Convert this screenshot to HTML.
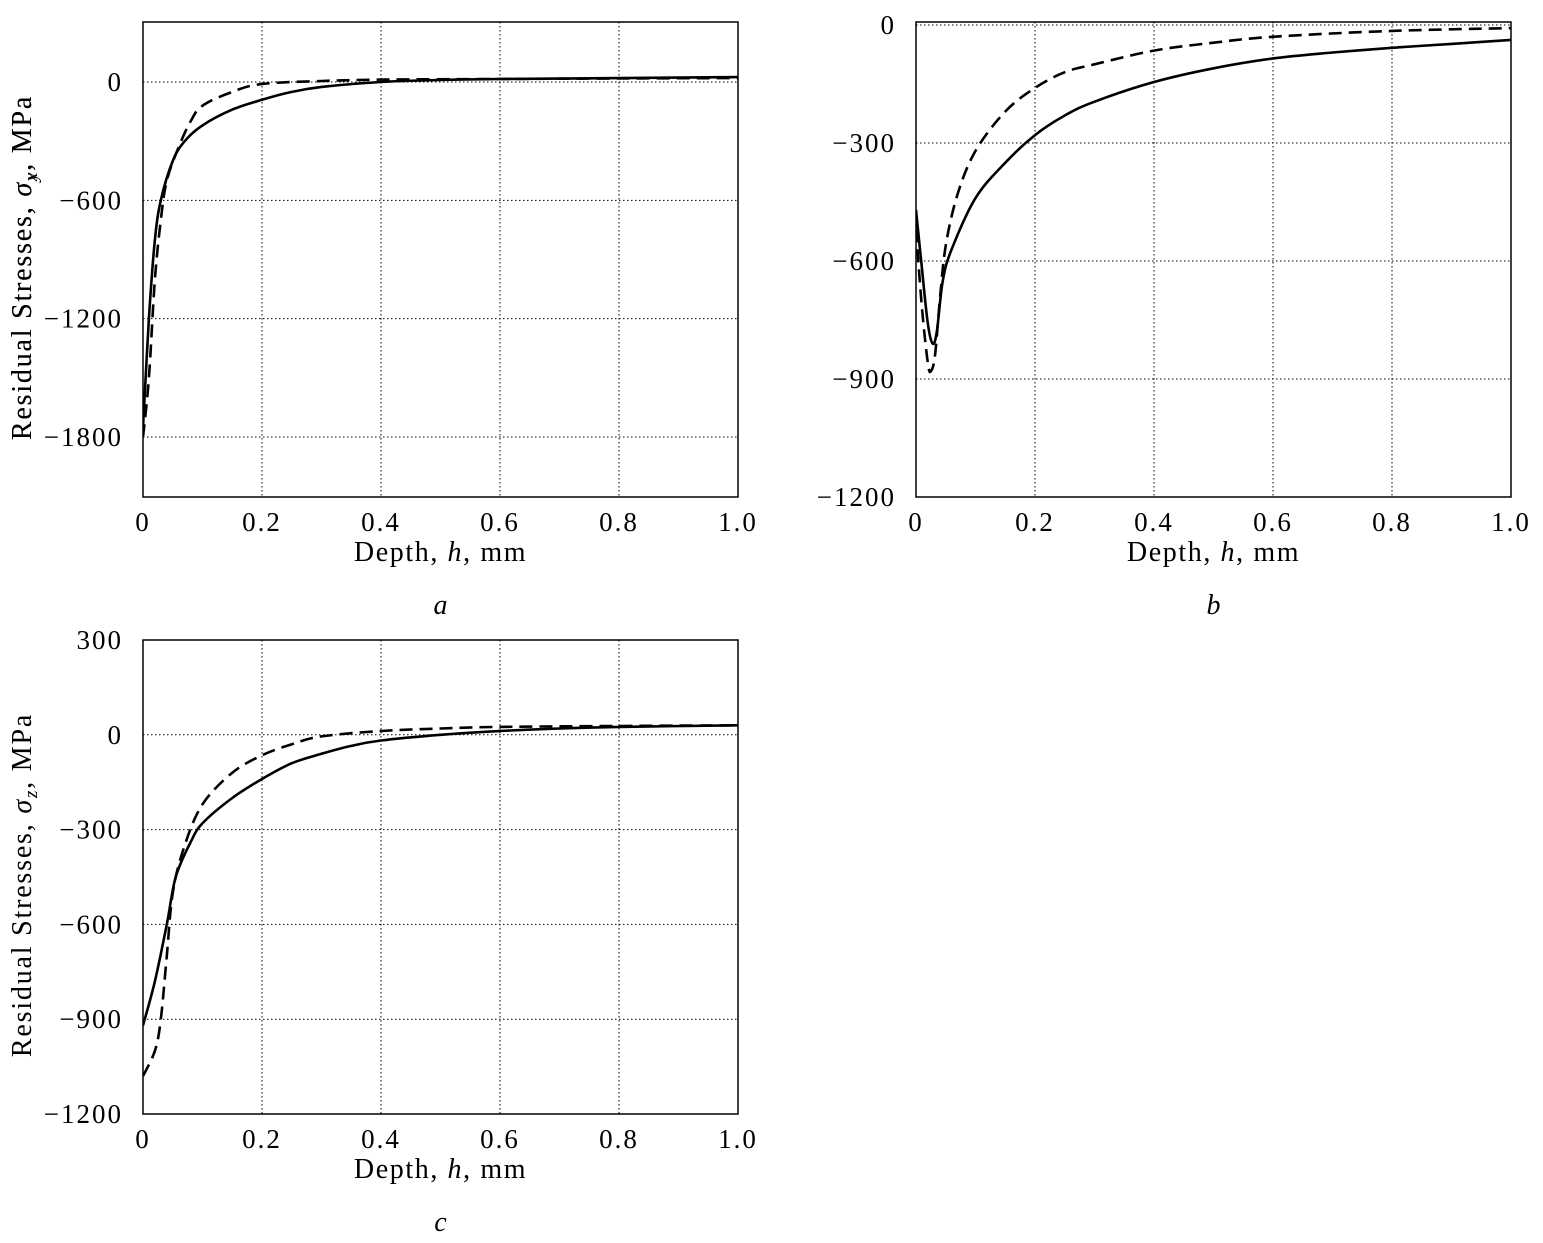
<!DOCTYPE html>
<html><head><meta charset="utf-8"><style>
body{margin:0;background:#fff;}
svg{display:block;font-family:"Liberation Serif",serif;}
</style></head><body>
<svg id="fig" width="1543" height="1243" viewBox="0 0 1543 1243" xmlns="http://www.w3.org/2000/svg"></svg>
<script>
const xTicks=[0,0.2,0.4,0.6,0.8,1.0];
const xTickLabels=["0","0.2","0.4","0.6","0.8","1.0"];
const aYTicks=[0,-600,-1200,-1800];
const aSolidX=[0,0.01,0.02,0.03,0.05,0.07,0.1,0.15,0.2,0.25,0.3,0.4,0.5,0.6,0.8,1.0];
const aSolidY=[-1750,-1200,-800,-600,-400,-300,-220,-140,-90,-50,-25,0,10,15,20,25];
const aDashX=[0,0.01,0.02,0.03,0.04,0.06,0.08,0.1,0.15,0.2,0.3,0.4,0.6,0.8,1.0];
const aDashY=[-1800,-1500,-1000,-700,-500,-330,-200,-120,-50,-10,5,12,15,18,20];
const bYTicks=[0,-300,-600,-900,-1200];
const bSolidX=[0,0.01,0.02,0.028,0.035,0.045,0.06,0.1,0.15,0.2,0.25,0.3,0.4,0.5,0.6,0.7,0.8,0.9,1.0];
const bSolidY=[-470,-620,-760,-810,-780,-650,-570,-440,-350,-280,-230,-195,-145,-110,-85,-70,-58,-48,-38];
const bDashX=[0,0.01,0.02,0.025,0.032,0.04,0.05,0.07,0.1,0.15,0.2,0.25,0.3,0.4,0.5,0.6,0.8,1.0];
const bDashY=[-520,-720,-860,-880,-840,-700,-560,-430,-320,-220,-160,-120,-100,-65,-45,-30,-15,-8];
const cYTicks=[300,0,-300,-600,-900,-1200];
const cSolidX=[0,0.02,0.04,0.055,0.08,0.1,0.15,0.2,0.25,0.3,0.35,0.4,0.5,0.6,0.7,0.8,1.0];
const cSolidY=[-920,-780,-600,-450,-340,-280,-200,-140,-90,-60,-35,-18,0,12,20,25,30];
const cDashX=[0,0.02,0.03,0.04,0.05,0.07,0.1,0.15,0.2,0.25,0.3,0.4,0.5,0.6,0.8,1.0];
const cDashY=[-1080,-1000,-900,-700,-500,-350,-220,-120,-65,-30,-5,12,20,25,28,30];

const NS="http://www.w3.org/2000/svg";
const svg=document.getElementById('fig');
function mk(tag,attrs,parent){const e=document.createElementNS(NS,tag);for(const k in attrs)e.setAttribute(k,attrs[k]);(parent||svg).appendChild(e);return e;}
function smooth(pts){
  let d='M'+pts[0][0].toFixed(1)+','+pts[0][1].toFixed(1);
  for(let i=0;i<pts.length-1;i++){
    const p0=pts[Math.max(0,i-1)],p1=pts[i],p2=pts[i+1],p3=pts[Math.min(pts.length-1,i+2)];
    const c1=[p1[0]+(p2[0]-p0[0])/6,p1[1]+(p2[1]-p0[1])/6];
    const c2=[p2[0]-(p3[0]-p1[0])/6,p2[1]-(p3[1]-p1[1])/6];
    d+='C'+c1.map(v=>v.toFixed(1)).join(',')+' '+c2.map(v=>v.toFixed(1)).join(',')+' '+p2.map(v=>v.toFixed(1)).join(',');
  }
  return d;
}

function panel(id,L,R,T,B,v0,p0,v1,p1,yTicks,sx,sy,dx,dy,sub,cap){
  const g=mk('g',{});
  
  
  const X=v=>L+(R-L)*v;
  const Y=v=>p0+(v-v0)*(p1-p0)/(v1-v0);
  xTicks.forEach((t,i)=>{
    if(t>0&&t<1){const l=mk('line',{x1:X(t),x2:X(t),y1:T,y2:B,stroke:'#000','stroke-width':1,'stroke-dasharray':'1.5 2.5'},g);
    }
    const tx=mk('text',{x:X(t),y:B+34,'font-size':27,'letter-spacing':2,'text-anchor':'middle'},g);tx.textContent=xTickLabels[i];
    
  });
  yTicks.forEach(t=>{
    const y=Y(t);
    if(y>T+2&&y<B-2){const l=mk('line',{x1:L,x2:R,y1:y,y2:y,stroke:'#000','stroke-width':1,'stroke-dasharray':'1.5 2.5'},g);
    }
    const tx=mk('text',{x:L-20,y:y+9,'font-size':27,'letter-spacing':2,'text-anchor':'end'},g);tx.textContent=(t<0?'\u2212':'')+Math.abs(t);
    
  });
  const cp=mk('clipPath',{id:'cp'+id},g);mk('rect',{x:L,y:T,width:R-L,height:B-T},cp);
  const line=(xs,ys,dash,name)=>{
    const p=mk('path',{d:smooth(xs.map((x,i)=>[X(x),Y(ys[i])])),fill:'none',stroke:'#000','stroke-width':2.6,'stroke-linejoin':'round','clip-path':'url(#cp'+id+')'},g);
    if(dash)p.setAttribute('stroke-dasharray','13 7');
    
  };
  line(sx,sy,false,'solid-series');
  line(dx,dy,true,'dashed-series');
  const fr=mk('rect',{x:L,y:T,width:R-L,height:B-T,fill:'none',stroke:'#000','stroke-width':1.5},g);
  
  const xl=mk('text',{x:(L+R)/2,y:B+64,'font-size':28,'letter-spacing':1.6,'text-anchor':'middle'},g);
  xl.innerHTML='Depth, <tspan font-style="italic">h</tspan>, mm';
  
  const cy=(T+B)/2+8;
  const yl=mk('text',{x:0,y:0,'font-size':28,'letter-spacing':1.8,'text-anchor':'middle',transform:'translate(31,'+cy+') rotate(-90)'},g);
  yl.innerHTML='Residual Stresses, <tspan font-style="italic">σ</tspan><tspan font-style="italic" font-size="19" dy="6">'+sub+'</tspan><tspan dy="-6">, MPa</tspan>';
  
  const c=mk('text',{x:(L+R)/2,y:B+117,'font-size':28,'font-style':'italic','text-anchor':'middle'},g);c.textContent=cap;
  
}
panel('a',143,738,22,497,0,82,-1800,437,aYTicks,aSolidX,aSolidY,aDashX,aDashY,'x','a');
panel('b',916,1511,22,497,0,25,-1200,497,bYTicks,bSolidX,bSolidY,bDashX,bDashY,'y','b');
panel('c',143,738,640,1114,300,640,-1200,1114,cYTicks,cSolidX,cSolidY,cDashX,cDashY,'z','c');
</script>
</body></html>
